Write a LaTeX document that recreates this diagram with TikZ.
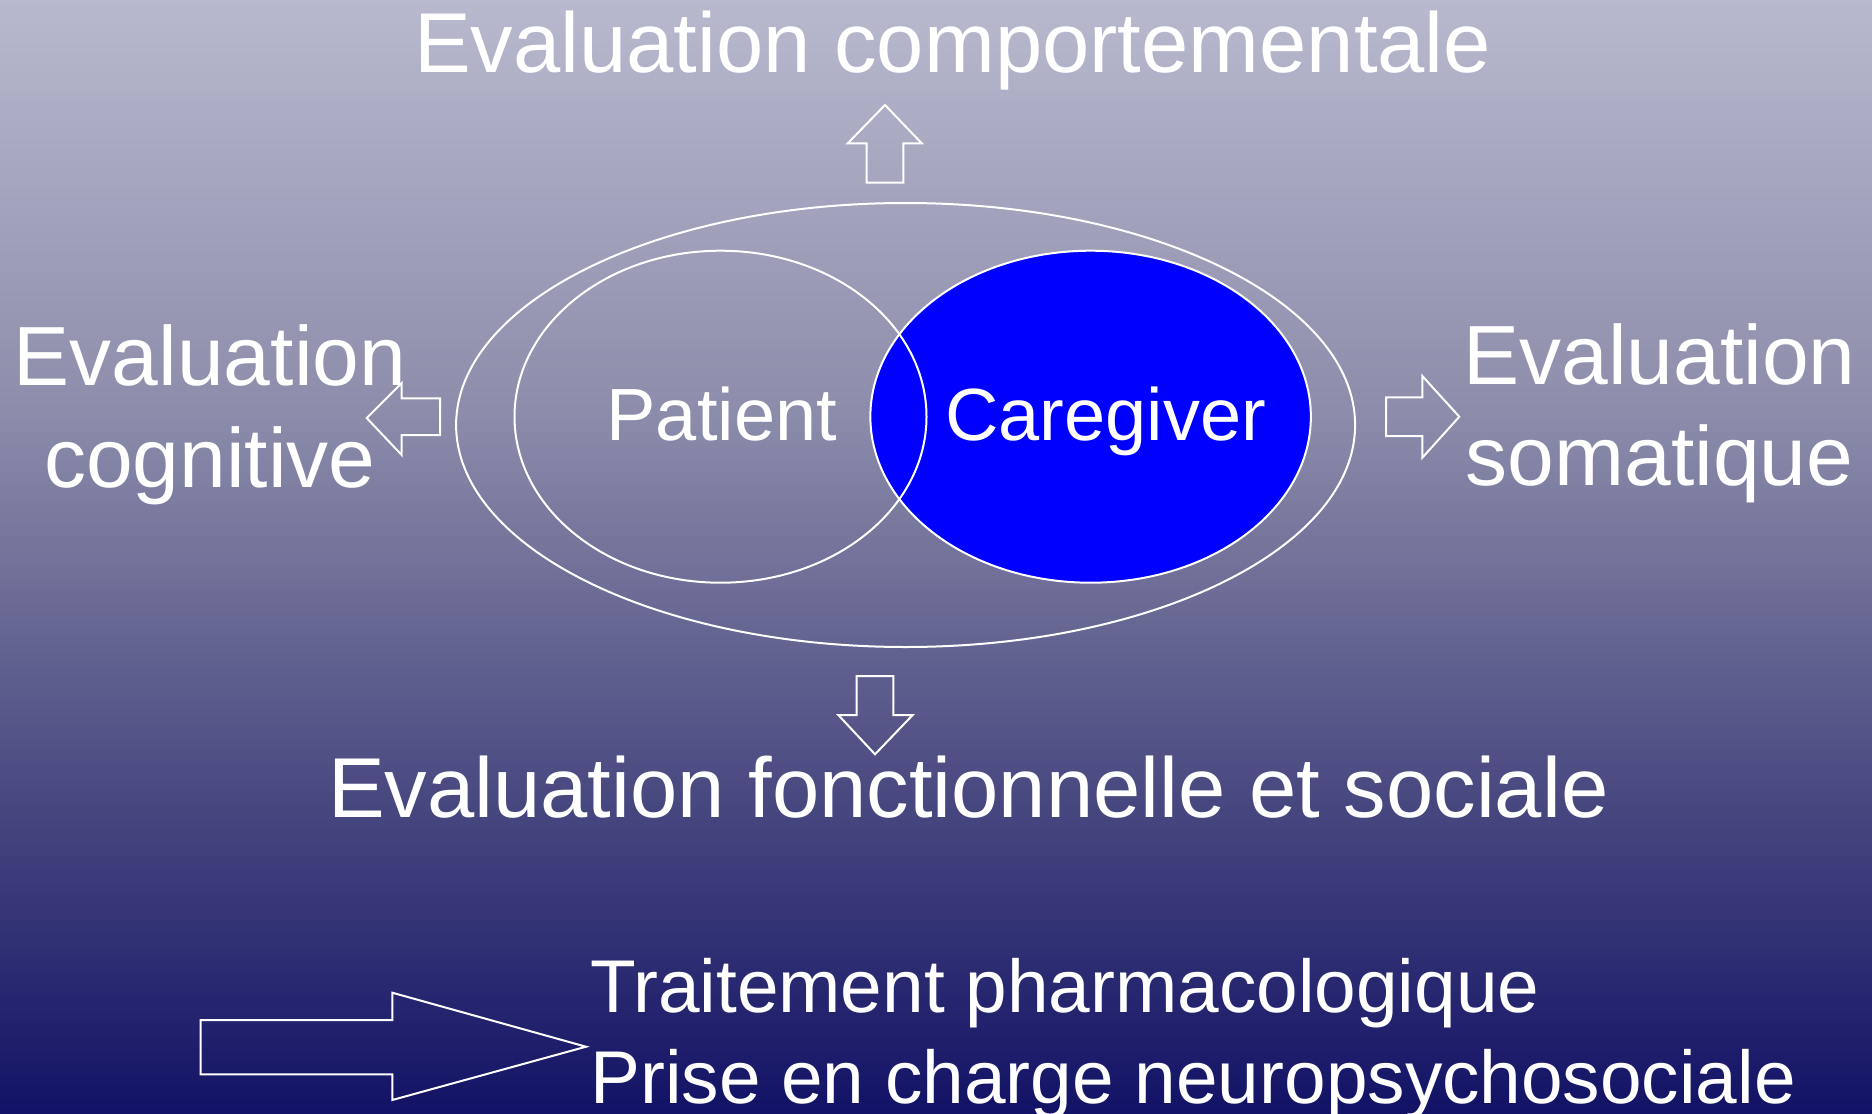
\documentclass[tikz,border=0pt]{standalone}
\usepackage{fontspec}
\setmainfont{Liberation Sans}
\usetikzlibrary{shapes.geometric}
\definecolor{bgA}{RGB}{184,184,206}
\definecolor{bgB}{RGB}{142,142,172}
\definecolor{bgC}{RGB}{72,72,128}
\definecolor{bgD}{RGB}{18,18,102}
\begin{document}
\begin{tikzpicture}[x=1pt,y=-1pt,
  lbl/.style={text=white, inner sep=0pt, anchor=base, font=\fontsize{85}{100}\selectfont},
  side/.style={lbl, font=\fontsize{84}{100}\selectfont},
  innerlbl/.style={lbl, font=\fontsize{74}{88}\selectfont},
  low/.style={lbl, anchor=base west, font=\fontsize{74.8}{90}\selectfont},
  ring/.style={ellipse, draw=white, line width=2pt, inner sep=0pt},
  blockarrow/.style={draw=white, line width=2pt, line join=miter}]
\useasboundingbox (0,0) rectangle (1872,1114);
% background gradient
\shade[top color=bgA, bottom color=bgB] (0,0) rectangle (1872,401);
\shade[top color=bgB, bottom color=bgC] (0,400) rectangle (1872,801);
\shade[top color=bgC, bottom color=bgD] (0,800) rectangle (1872,1114);
% ellipses
\node[ring, minimum width=899pt, minimum height=444pt] (outer) at (905.6,425) {};
\node[ring, fill=blue, minimum width=440.5pt, minimum height=332pt] (care) at (1090.6,416.7) {};
\node[ring, minimum width=412pt, minimum height=332pt] (pat) at (720.5,416.7) {};
% labels
\node[lbl] (topl) at (952.7,72.7) {Evaluation comportementale};
\node[side] (cogA) at (210,385) {Evaluation};
\node[side] (cogB) at (210,487) {cognitive};
\node[side] (somA) at (1659.5,384) {Evaluation};
\node[side] (somB) at (1659.5,485) {somatique};
\node[innerlbl] (patlbl) at (721.7,440) {Patient};
\node[innerlbl] (carelbl) at (1105.6,440) {Caregiver};
\node[lbl] (botl) at (968.3,817.7) {Evaluation fonctionnelle et sociale};
\node[low] (trt) at (590,1012) {Traitement pharmacologique};
\node[low] (prise) at (590,1103) {Prise en charge neuropsychosociale};
% block arrows
\draw[blockarrow] (885,105) -- (921.7,143.3) -- (903.3,143.3) -- (903.3,182.7) -- (866.7,182.7) -- (866.7,143.3) -- (847.7,143.3) -- cycle;
\draw[blockarrow] (366.7,418) -- (401.7,383) -- (401.7,398.3) -- (440,398.3) -- (440,435) -- (401.7,435) -- (401.7,455) -- cycle;
\draw[blockarrow] (1386,397.3) -- (1422.3,397.3) -- (1422.3,376) -- (1459.3,416.7) -- (1422.3,457.7) -- (1422.3,436) -- (1386,436) -- cycle;
\draw[blockarrow] (856.7,676) -- (893.3,676) -- (893.3,715) -- (912.7,715) -- (875,754.3) -- (838.3,715) -- (856.7,715) -- cycle;
\draw[blockarrow] (200.7,1020) -- (392.3,1020) -- (392.3,992.7) -- (586,1046.7) -- (392.3,1100) -- (392.3,1074.3) -- (200.7,1074.3) -- cycle;
\end{tikzpicture}
\end{document}
